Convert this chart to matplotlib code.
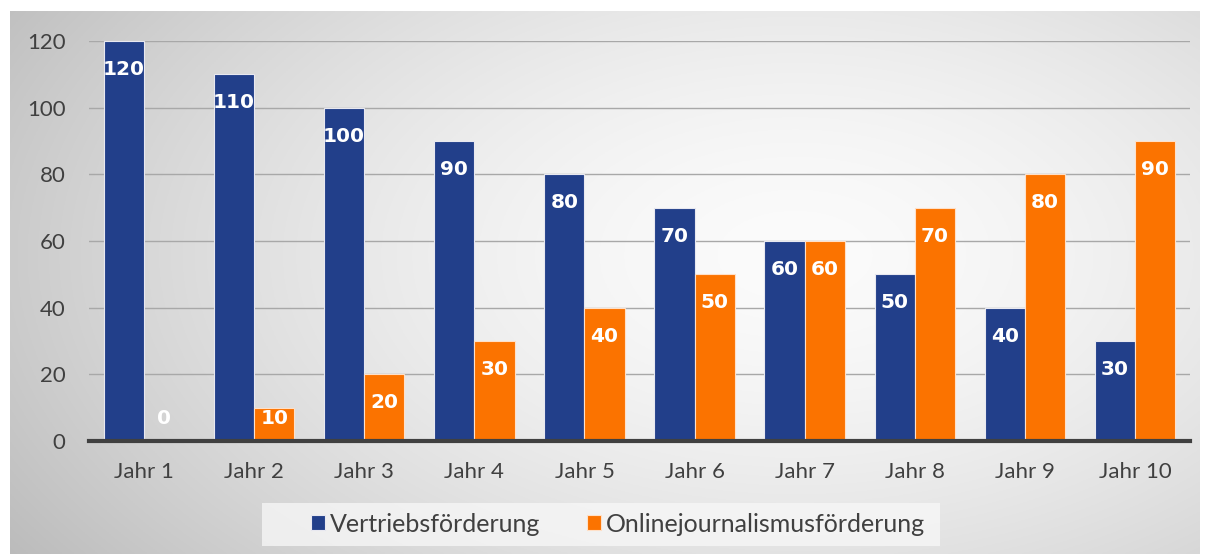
import numpy as np
import matplotlib
matplotlib.use("Agg")
import matplotlib.pyplot as plt
from matplotlib.patches import Rectangle

categories = ["Jahr 1", "Jahr 2", "Jahr 3", "Jahr 4", "Jahr 5",
              "Jahr 6", "Jahr 7", "Jahr 8", "Jahr 9", "Jahr 10"]
vertrieb = [120, 110, 100, 90, 80, 70, 60, 50, 40, 30]
online = [0, 10, 20, 30, 40, 50, 60, 70, 80, 90]
series_names = ["Vertriebsförderung", "Onlinejournalismusförderung"]
yticks = [0, 20, 40, 60, 80, 100, 120]

BLUE = "#223f8a"
ORANGE = "#fb7300"
TXT = "#404040"
W, H = 1209, 554

fig = plt.figure(figsize=(W / 100, H / 100), dpi=100)
fig.patch.set_facecolor("white")

# radial gradient background
bg = fig.add_axes([10 / W, 0, 1190 / W, 543 / H])
bg.set_axis_off()
yy, xx = np.mgrid[0:1:300j, 0:1:600j]
r = np.sqrt(((xx - 0.66) / 0.75) ** 2 + ((yy - 0.55) / 0.95) ** 2)
g = 0.985 - 0.23 * np.clip(r, 0, 1.2) ** 1.6
img = np.dstack([g, g, g])
bg.imshow(img, extent=[0, 1, 0, 1], aspect="auto", origin="lower")
bg.set_xlim(0, 1)
bg.set_ylim(0, 1)

# legend panel
fig.patches.append(Rectangle((262 / W, (H - 546) / H), (940 - 262) / W, 43 / H,
                             transform=fig.transFigure, facecolor="#f8f8f8",
                             alpha=0.75, edgecolor="none", zorder=1))

ax = fig.add_axes([89 / W, (H - 441) / H, (1190 - 89) / W, 400 / H])
ax.set_facecolor("none")
x = np.arange(len(categories))
bw = 0.365
b1 = ax.bar(x - bw / 2, vertrieb, bw, color=BLUE, edgecolor="#e8e8f0",
            linewidth=0.8, zorder=3, clip_on=False, label=series_names[0])
b2 = ax.bar(x + bw / 2, online, bw, color=ORANGE, edgecolor="#ffe0c8",
            linewidth=0.8, zorder=3, clip_on=False, label=series_names[1])

for xs, vals in ((x - bw / 2, vertrieb), (x + bw / 2, online)):
    for xi, v in zip(xs, vals):
        ax.text(xi, max(v - 8.5, 6.9), str(v), ha="center", va="center",
                color="white", fontsize=14.5, fontweight="bold",
                family="DejaVu Sans", zorder=5)

ax.set_xlim(-0.5, 9.5)
ax.set_ylim(0, 120)
ax.set_yticks(yticks)
ax.set_xticks(x)
ax.set_xticklabels(categories)
ax.grid(axis="y", color="#a8a8a8", linewidth=1.0, zorder=0)
for s in ("top", "right", "left"):
    ax.spines[s].set_visible(False)
ax.spines["bottom"].set_color("#404040")
ax.spines["bottom"].set_linewidth(3)
ax.spines["bottom"].set_zorder(4)
ax.tick_params(axis="both", length=0, labelcolor=TXT, labelsize=16)
ax.tick_params(axis="x", pad=15)
ax.tick_params(axis="y", pad=17)
for lab in ax.get_xticklabels() + ax.get_yticklabels():
    lab.set_family("Lato")
    lab.set_fontweight("normal")
    lab.set_color(TXT)

leg = fig.legend(handles=[b1, b2], labels=series_names, loc="center",
                 bbox_to_anchor=(618 / W, (H - 524) / H), ncol=2, frameon=False,
                 handlelength=0.55, handleheight=0.55,
                 handletextpad=0.2, columnspacing=1.9,
                 prop={"family": "Lato", "weight": "normal", "size": 18})
for t in leg.get_texts():
    t.set_color(TXT)

fig.savefig("out.png", dpi=100)
